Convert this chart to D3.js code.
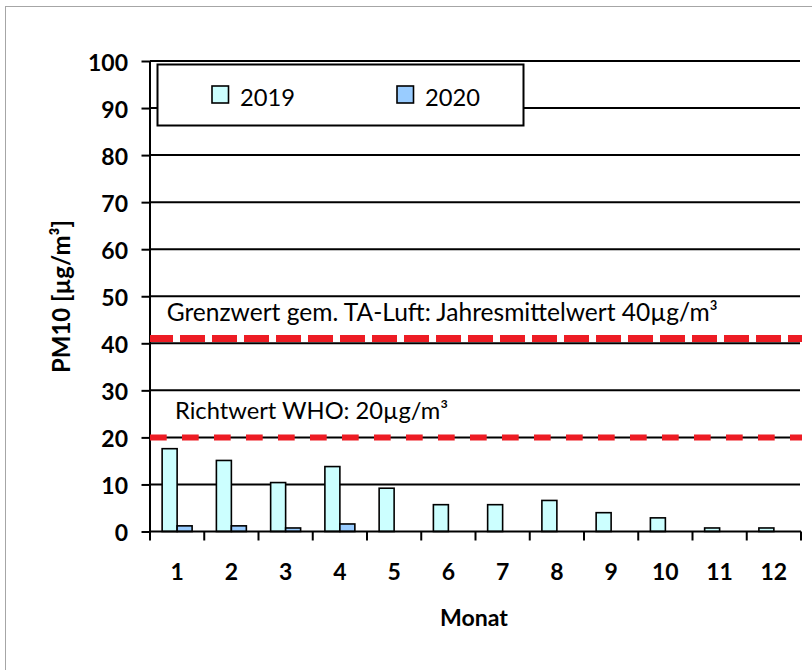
<!DOCTYPE html>
<html>
<head>
<meta charset="utf-8">
<script src="https://cdn.jsdelivr.net/npm/d3@7"></script>
<style>
  html, body { margin: 0; padding: 0; background: #fff; }
  svg { display: block; font-family: Lato, "Open Sans", sans-serif; }
</style>
</head>
<body>
<svg id="chart" width="812" height="670"></svg>
<script>
// ---- data ----
const months = ["1","2","3","4","5","6","7","8","9","10","11","12"];
const seriesNames = ["2019","2020"];
const values2019 = [17.6,15.1,10.4,13.8,9.2,5.7,5.7,6.6,4.0,2.9,0.75,0.75];
const values2020 = [1.2,1.2,0.75,1.6,null,null,null,null,null,null,null,null];
const yTickValues = [0,10,20,30,40,50,60,70,80,90,100];
const limitLines = [
  {name: "Grenzwert gem. TA-Luft: Jahresmittelwert 40µg/m³", value: 41},
  {name: "Richtwert WHO: 20µg/m³", value: 20}
];
const yTitle = "PM10 [µg/m³]";
const xTitle = "Monat";

// ---- layout ----
(function(){
const svg = d3.select("#chart");
const pLeft = 150, pRight = 801, pTop = 61, pBottom = 531.5;
const colors = {"2019": "#CCFFFF", "2020": "#99CCFF"};

// outer border
svg.append("rect").attr("x",5.5).attr("y",6.5).attr("width",830).attr("height",690)
  .attr("fill","#fff").attr("stroke","#a6a6a6").attr("stroke-width",1);

const x0 = d3.scaleBand().domain(months).range([pLeft,pRight]).padding(0);
const x1 = d3.scaleBand().domain(seriesNames).range([0,x0.bandwidth()]).paddingInner(0).paddingOuter(0.81);
const y = d3.scaleLinear().domain([0,100]).range([pBottom,pTop]);

function fit(sel, w) {
  const l = sel.node().getComputedTextLength();
  const fs = parseFloat(sel.attr("font-size"));
  sel.attr("font-size", fs * w / l);
  return fs * w / l;
}

// gridlines
svg.append("g").selectAll("line").data(yTickValues.filter(d=>d>0)).join("line")
  .attr("x1",pLeft).attr("x2",800).attr("y1",d=>y(d)).attr("y2",d=>y(d))
  .attr("stroke","#000").attr("stroke-width",2);

// y axis
const yAxis = svg.append("g").attr("transform",`translate(${pLeft},0)`)
  .call(d3.axisLeft(y).tickValues(yTickValues).tickSize(8.5).tickPadding(13.5).tickFormat(d3.format("d")));
yAxis.select(".domain").attr("stroke","#000").attr("stroke-width",2).attr("d",`M0,${pTop}V${pBottom}`);
yAxis.selectAll(".tick line").attr("stroke","#000").attr("stroke-width",2);
const yLabels = yAxis.selectAll(".tick text").attr("font-family","Lato").attr("font-weight","bold")
  .attr("fill","#000").attr("font-size",22).attr("dy","0.4em");
let tickFs = 22;
yLabels.filter(d=>d===100).each(function(){ tickFs = fit(d3.select(this), 40); });
yLabels.attr("font-size", tickFs);

// bars
const data = months.map((m,i)=>({month:m, vals:[{s:"2019",v:values2019[i]},{s:"2020",v:values2020[i]}]}));
svg.append("g").selectAll("g").data(data).join("g")
  .attr("transform",d=>`translate(${x0(d.month)},0)`)
  .selectAll("rect").data(d=>d.vals.filter(e=>e.v!=null)).join("rect")
  .attr("x",d=>x1(d.s)).attr("width",x1.bandwidth())
  .attr("y",d=>y(d.v)).attr("height",d=>y(0)-y(d.v))
  .attr("fill",d=>colors[d.s]).attr("stroke","#000").attr("stroke-width",1.6);

// x axis
const xAxisG = svg.append("g").attr("transform",`translate(0,${pBottom})`);
xAxisG.append("line").attr("x1",pLeft).attr("x2",pRight).attr("stroke","#000").attr("stroke-width",2);
const boundaries = months.map(m=>x0(m)).concat([x0(months[months.length-1])+x0.bandwidth()]);
xAxisG.selectAll("line.t").data(boundaries).join("line").attr("class","t")
  .attr("x1",d=>d).attr("x2",d=>d).attr("y1",0).attr("y2",9)
  .attr("stroke","#000").attr("stroke-width",2);
xAxisG.selectAll("text").data(months).join("text")
  .attr("x",d=>x0(d)+x0.bandwidth()/2).attr("y",580-pBottom)
  .attr("text-anchor","middle").attr("font-weight","bold").attr("font-size",tickFs).text(d=>d);

// limit lines
const dashStyles = [{w:7, dash:"25,7", off:2}, {w:6, dash:"16.7,15.3", off:0}];
limitLines.forEach((L,i)=>{
  svg.append("line").attr("x1",pLeft).attr("x2",802)
    .attr("y1",y(L.value)).attr("y2",y(L.value))
    .attr("stroke","#ED1C24").attr("stroke-width",dashStyles[i].w)
    .attr("stroke-dasharray",dashStyles[i].dash).attr("stroke-dashoffset",dashStyles[i].off);
});
const a1 = svg.append("text").attr("x",166.7).attr("y",321).attr("font-size",22).attr("fill","#000").text(limitLines[0].name);
fit(a1, 551.6);
const a2 = svg.append("text").attr("x",175).attr("y",419.3).attr("font-size",22).attr("fill","#000").text(limitLines[1].name);
fit(a2, 273.3);

// legend
const lg = svg.append("g");
lg.append("rect").attr("x",157.5).attr("y",64.5).attr("width",366).attr("height",61)
  .attr("fill","#fff").attr("stroke","#000").attr("stroke-width",2);
const legPos = [{sx:212, tx:240}, {sx:397, tx:425}];
seriesNames.forEach((s,i)=>{
  lg.append("rect").attr("x",legPos[i].sx).attr("y",86).attr("width",16.5).attr("height",17)
    .attr("fill",colors[s]).attr("stroke","#000").attr("stroke-width",1.6);
  const t = lg.append("text").attr("x",legPos[i].tx).attr("y",106).attr("font-size",24).attr("fill","#000").text(s);
  fit(t, 55);
});

// axis titles
const xt = svg.append("text").attr("x",474).attr("y",626).attr("text-anchor","middle")
  .attr("font-weight","bold").attr("font-size",22).text(xTitle);
fit(xt, 68);
const yt = svg.append("text").attr("transform","translate(70,296.5) rotate(-90)").attr("text-anchor","middle")
  .attr("font-weight","bold").attr("font-size",22).text(yTitle);
fit(yt, 153);
})();
</script>
</body>
</html>
